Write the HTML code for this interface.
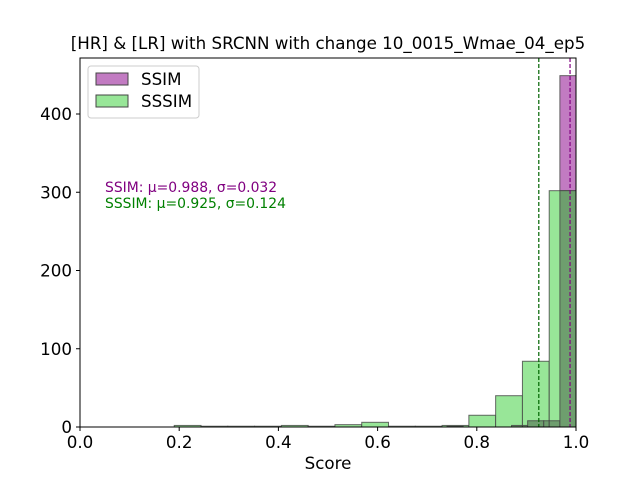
<!DOCTYPE html>
<html><head><meta charset="utf-8"><style>
body{margin:0;background:#fff}
svg text{font-family:"DejaVu Sans","Liberation Sans",sans-serif}
</style></head><body>
<svg id="c" width="640" height="480" xmlns="http://www.w3.org/2000/svg">
<rect width="640" height="480" fill="#fff"/>
<g id="bars"></g>
<rect x="80" y="58" width="496" height="369" fill="none" stroke="#000" stroke-width="1"/>
<g id="axes"></g>
<text x="328" y="49" font-size="16.7" text-anchor="middle">[HR] &amp; [LR] with SRCNN with change 10_0015_Wmae_04_ep5</text>
<text x="328" y="469" font-size="16.7" text-anchor="middle">Score</text>
<text x="105" y="192" font-size="13.9" fill="#800080">SSIM: μ=0.988, σ=0.032</text>
<text x="105" y="208" font-size="13.9" fill="#008000">SSSIM: μ=0.925, σ=0.124</text>
<g>
<rect x="88" y="66" width="111" height="52" rx="3" fill="#fff" fill-opacity="0.8" stroke="#ccc"/>
<rect x="96" y="73" width="32" height="12" fill="#c27bc2" stroke="#444"/>
<text x="141" y="85" font-size="16.7">SSIM</text>
<rect x="96" y="95" width="32" height="12" fill="#98e698" stroke="#444"/>
<text x="141" y="107" font-size="16.7">SSSIM</text>
</g>
</svg>
<script>
const ssimStart=0.74, ssimWidth=0.0325;
const ssimCounts=[1,0,0,0,2,8,8,449];
const sssimStart=0.19, sssimWidth=0.054;
const sssimCounts=[2,1,1,1,2,1,3,6,1,1,2,15,40,84,302];
const ssimMean=0.988, sssimMean=0.925;
const xTicks=[0,0.2,0.4,0.6,0.8,1.0];
const xTickLabels=["0.0","0.2","0.4","0.6","0.8","1.0"];
const yTicks=[0,100,200,300,400];
const X=v=>80+v*496, Y=v=>427-v*0.7825;
const NS="http://www.w3.org/2000/svg";
const bars=document.getElementById('bars'), axes=document.getElementById('axes');
function mk(tag,attrs,parent){const e=document.createElementNS(NS,tag);for(const k in attrs)e.setAttribute(k,attrs[k]);parent.appendChild(e);return e;}
ssimCounts.forEach((c,i)=>{if(!c)return;const x0=X(ssimStart+i*ssimWidth),x1=X(ssimStart+(i+1)*ssimWidth);
const r=mk('rect',{x:x0,y:Y(c),width:x1-x0,height:Y(0)-Y(c),fill:'#c27bc2',stroke:'#444','stroke-opacity':0.8},bars);

});
sssimCounts.forEach((c,i)=>{const x0=X(sssimStart+i*sssimWidth),x1=X(sssimStart+(i+1)*sssimWidth);
const r=mk('rect',{x:x0,y:Y(c),width:x1-x0,height:Y(0)-Y(c),fill:'#98e698',stroke:'#444','stroke-opacity':0.8},bars);

});
ssimCounts.forEach((c,i)=>{if(!c)return;const a=ssimStart+i*ssimWidth,b=a+ssimWidth;
sssimCounts.forEach((d,j)=>{const p=sssimStart+j*sssimWidth,q=p+sssimWidth;const lo=Math.max(a,p),hi=Math.min(b,q);const h=Math.min(c,d);
if(hi>lo&&h>0){const r=mk('rect',{x:X(lo),y:Y(h),width:X(hi)-X(lo),height:Y(0)-Y(h),fill:'#6e9e6e',stroke:'#444','stroke-opacity':0.8},bars);

}});});
let l=mk('line',{x1:X(sssimMean),x2:X(sssimMean),y1:58,y2:427,stroke:'#006400','stroke-width':1.2,'stroke-dasharray':'4,2'},bars);


l=mk('line',{x1:X(ssimMean),x2:X(ssimMean),y1:58,y2:427,stroke:'#800080','stroke-width':1.2,'stroke-dasharray':'4,2'},bars);


xTicks.forEach((v,i)=>{mk('line',{x1:X(v),x2:X(v),y1:427,y2:431,stroke:'#000'},axes);
const t=mk('text',{x:X(v),y:448,'font-size':16.7,'text-anchor':'middle'},axes);t.textContent=xTickLabels[i];

});
yTicks.forEach(v=>{mk('line',{x1:76,x2:80,y1:Y(v),y2:Y(v),stroke:'#000'},axes);
const t=mk('text',{x:72,y:Y(v)+6,'font-size':16.7,'text-anchor':'end'},axes);t.textContent=v;

});
</script>
</body></html>
